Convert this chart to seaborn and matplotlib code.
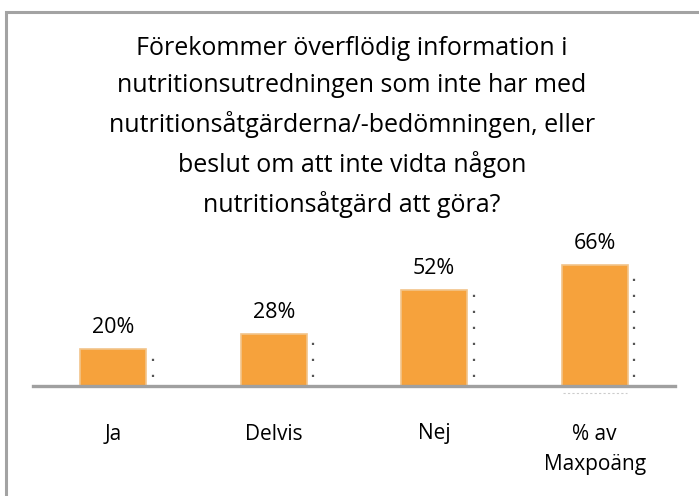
import matplotlib
matplotlib.use("Agg")
import matplotlib.pyplot as plt
import seaborn as sns
import pandas as pd
from matplotlib.patches import Rectangle

# data
kategorier = ["Ja", "Delvis", "Nej", "% av\nMaxpoäng"]
procent = [20, 28, 52, 66]
titel = ("Förekommer överflödig information i\n"
         "nutritionsutredningen som inte har med\n"
         "nutritionsåtgärderna/-bedömningen, eller\n"
         "beslut om att inte vidta någon\n"
         "nutritionsåtgärd att göra?")

sns.set_style("white")
plt.rcParams["font.family"] = ["Open Sans", "DejaVu Sans"]

df = pd.DataFrame({"kategori": kategorier, "procent": procent})

fig = plt.figure(figsize=(6.99, 4.96), dpi=100)
W, H = 699, 496

# ram runt diagrammet
fig.patches.append(Rectangle((6 / W, -0.1), 1.2, (H - 12) / H + 0.1, transform=fig.transFigure,
                             fill=False, edgecolor="#a3a3a3", linewidth=2.2))

ax = fig.add_axes([33 / W, (H - 386) / H, 642 / W, 184 / H])
sns.barplot(data=df, x="kategori", y="procent", ax=ax, color="#F6A23C",
            width=0.41, edgecolor="#F2C48A", linewidth=1.2, saturation=1)

# prickade "skuggor" till höger om staplarna
for i, v in enumerate(procent):
    ax.plot([i + 0.245, i + 0.245], [5, v - 2], linestyle=(0, (1, 6.2)),
            color="#555555", linewidth=1.6)
    ax.text(i, v + 6, f"{v}%", ha="center", va="bottom", fontsize=15.5, color="black")
# svag streckad linje under sista stapeln
ax.plot([2.8, 3.2], [-4, -4], linestyle=(0, (2, 2)), color="#cccccc",
        linewidth=0.8, clip_on=False)

ax.set_xlim(-0.5, 3.5)
ax.set_ylim(0, 100)
ax.set_xlabel("")
ax.set_ylabel("")
ax.set_yticks([])
ax.tick_params(axis="x", length=0, pad=27, labelsize=15, labelcolor="black")
for lbl in ax.get_xticklabels():
    lbl.set_linespacing(1.6)
sns.despine(ax=ax, left=True)
ax.spines["bottom"].set_color("#a0a0a0")
ax.spines["bottom"].set_linewidth(2.4)

fig.text(352 / W, 1 - 36 / H, titel, ha="center", va="top", fontsize=18,
         linespacing=1.62, color="black")

fig.savefig("out.png", dpi=100)
